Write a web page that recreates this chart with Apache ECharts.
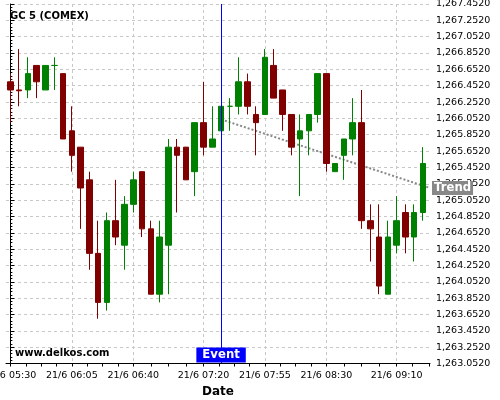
<!DOCTYPE html>
<html>
<head>
<meta charset="utf-8">
<script src="https://cdn.jsdelivr.net/npm/echarts@6/dist/echarts.min.js"></script>
<style>
html,body{margin:0;padding:0;background:#fff;}
#chart{width:500px;height:400px;}
</style>
</head>
<body>
<div id="chart"></div>
<script>
// ---- data ----
const times = ['05:30','05:35','05:40','05:45','05:50','05:55','06:00','06:05','06:10','06:15','06:20','06:25',
  '06:30','06:35','06:40','06:45','06:50','06:55','07:00','07:05','07:10','07:15','07:20','07:25',
  '07:30','07:35','07:40','07:45','07:50','07:55','08:00','08:05','08:10','08:15','08:20','08:25',
  '08:30','08:35','08:40','08:45','08:50','08:55','09:00','09:05','09:10','09:15','09:20','09:25'];
const opens  = [1266.5,1266.4,1266.4,1266.7,1266.4,1266.7,1266.6,1265.9,1265.7,1265.3,1264.4,1263.8,
  1264.8,1264.5,1265.0,1265.4,1264.7,1263.9,1264.5,1265.7,1265.7,1265.4,1266.0,1265.7,
  1265.9,1266.2,1266.2,1266.5,1266.1,1266.1,1266.7,1266.4,1266.1,1265.8,1265.9,1266.1,
  1266.6,1265.4,1265.6,1265.8,1266.0,1264.8,1264.6,1263.9,1264.5,1264.9,1264.6,1264.9];
const closes = [1266.4,1266.39,1266.6,1266.5,1266.7,1266.7,1265.8,1265.6,1265.2,1264.4,1263.8,1264.8,
  1264.6,1265.0,1265.3,1264.7,1263.9,1264.6,1265.7,1265.6,1265.3,1266.0,1265.7,1265.8,
  1266.2,1266.2,1266.5,1266.2,1266.0,1266.8,1266.3,1266.1,1265.7,1265.9,1266.1,1266.6,
  1265.5,1265.5,1265.8,1266.0,1264.8,1264.7,1264.0,1264.6,1264.8,1264.6,1264.9,1265.5];
const lows   = [1266.0,1266.2,1266.3,1266.3,1266.4,1266.4,1265.8,1265.4,1264.7,1264.2,1263.6,1263.7,
  1264.5,1264.2,1264.9,1264.6,1263.9,1263.8,1263.9,1264.9,1265.3,1265.1,1265.6,1265.7,
  1265.9,1265.9,1266.1,1266.1,1265.6,1266.1,1266.3,1265.9,1265.6,1265.1,1265.6,1266.0,
  1265.4,1265.4,1265.3,1265.6,1264.7,1264.3,1263.9,1263.9,1264.4,1264.4,1264.3,1264.8];
const highs  = [1266.6,1266.9,1266.8,1266.7,1266.7,1266.8,1266.6,1266.2,1265.7,1265.4,1264.8,1264.9,
  1265.3,1265.1,1265.4,1265.4,1264.8,1264.8,1265.8,1265.8,1265.7,1266.0,1266.5,1266.2,
  1266.2,1266.3,1266.8,1266.6,1266.2,1266.9,1266.9,1266.4,1266.1,1266.1,1266.1,1266.6,
  1266.6,1265.5,1265.8,1266.3,1266.4,1265.0,1265.0,1264.8,1265.1,1265.0,1265.0,1265.7];
const labelIdx = [0, 7, 14, 22, 29, 36, 44];
const minorTickIdx = [1.75,3.5,5.25,8.75,10.5,12.25,16,18,20,23.75,25.5,27.25,30.75,32.5,34.25,38,40,42,45.83,47.67];
const eventIdx = 24;
const trendStart = [24, 1266.04];
const trendEnd = [47.8, 1265.2];
const yMin = 1263.052, yMax = 1267.452, yStep = 0.2;
const xMin = -0.5, xMax = 47.8;

// ---- chart ----
const FONT = 'DejaVu Sans';
function fmtPrice(v) {
  const s = Number(v).toFixed(4);
  const p = s.split('.');
  return p[0].replace(/\B(?=(\d{3})+(?!\d))/g, ',') + '.' + p[1];
}
const candleData = opens.map((o, i) => [i, o, closes[i], lows[i], highs[i]]);

const chart = echarts.init(document.getElementById('chart'), null, {renderer: 'canvas'});
chart.setOption({
  animation: false,
  backgroundColor: '#fff',
  title: [
    {text: 'GC 5 (COMEX)', left: 5, top: 6, padding: 5,
     textStyle: {fontFamily: FONT, fontSize: 10, fontWeight: 'bold', color: '#000'}},
    {text: 'www.delkos.com', left: 10, top: 343, padding: 5,
     textStyle: {fontFamily: FONT, fontSize: 10, fontWeight: 'bold', color: '#000'}}
  ],
  grid: {left: 6, right: 70, top: 4, bottom: 36.5, containLabel: false, outerBoundsMode: 'none'},
  xAxis: [
    {
      type: 'value', min: xMin, max: xMax,
      name: 'Date', nameLocation: 'middle', nameGap: 19,
      nameTextStyle: {fontFamily: FONT, fontSize: 12, fontWeight: 'bold', color: '#000'},
      axisLine: {show: true, lineStyle: {color: '#000', width: 1}},
      axisTick: {show: true, length: 3, customValues: labelIdx, lineStyle: {color: '#000'}},
      axisLabel: {
        show: true, customValues: labelIdx, margin: 7,
        fontFamily: FONT, fontSize: 9.5, color: '#000',
        formatter: v => '21/6 ' + times[Math.round(v)]
      },
      splitLine: {show: true, lineStyle: {color: '#c8c8c8', type: [3, 3], width: 1}},
      minorTick: {show: false}
    },
    {
      type: 'value', min: xMin, max: xMax, position: 'bottom',
      axisLine: {show: false},
      axisTick: {show: true, length: 3, customValues: minorTickIdx, lineStyle: {color: '#000'}},
      axisLabel: {show: false},
      splitLine: {show: false}
    }
  ],
  yAxis: {
    type: 'value', position: 'right', min: yMin, max: yMax, interval: yStep,
    axisLine: {show: true, lineStyle: {color: '#000', width: 1}},
    axisTick: {show: true, length: 4, lineStyle: {color: '#000'}},
    minorTick: {show: true, splitNumber: 5, length: 2, lineStyle: {color: '#000'}},
    axisLabel: {margin: 6, fontFamily: FONT, fontSize: 9.5, color: '#000', formatter: fmtPrice},
    splitLine: {show: true, lineStyle: {color: '#c8c8c8', type: [3, 3], width: 1}}
  },
  series: [
    {
      type: 'line', name: 'Trend', z: 1,
      xAxisIndex: 0,
      data: [trendStart, trendEnd],
      symbol: 'none',
      lineStyle: {color: '#888', width: 2, type: [2, 2]},
      endLabel: {
        show: true, formatter: 'Trend', distance: 2,
        backgroundColor: '#888', color: '#fff',
        fontFamily: FONT, fontSize: 11.7, fontWeight: 'bold',
        padding: [1, 2, 0, 2], lineHeight: 13
      }
    },
    {
      type: 'candlestick', name: 'GC 5', z: 2,
      xAxisIndex: 0,
      dimensions: ['idx', 'open', 'close', 'lowest', 'highest'],
      encode: {x: 'idx', y: ['open', 'close', 'lowest', 'highest']},
      data: candleData,
      barWidth: 6,
      itemStyle: {
        color: '#008000', color0: '#800000',
        borderColor: '#008000', borderColor0: '#800000', borderWidth: 1
      },
      markLine: {
        silent: true, symbol: ['none', 'none'],
        label: {show: false},
        lineStyle: {color: '#0000ff', type: 'solid', width: 1},
        data: [{xAxis: eventIdx}]
      },
      markPoint: {
        silent: true,
        symbol: 'circle', symbolSize: 0,
        label: {
          show: true, position: 'top', distance: 1,
          formatter: 'Event', backgroundColor: '#0000ff', color: '#fff',
          fontFamily: FONT, fontSize: 11.7, fontWeight: 'bold',
          padding: [1, 6, 1, 6], lineHeight: 13
        },
        data: [{coord: [eventIdx, yMin]}]
      }
    }
  ]
});
</script>
</body>
</html>
